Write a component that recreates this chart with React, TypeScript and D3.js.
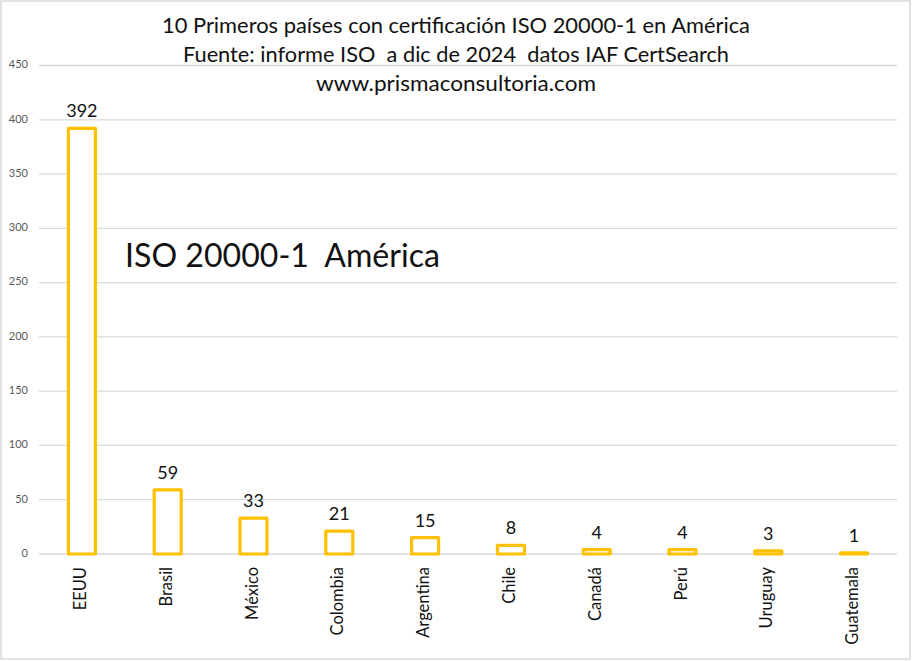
import React from "react";
import * as d3 from "d3";

const countries = ["EEUU", "Brasil", "México", "Colombia", "Argentina", "Chile", "Canadá", "Perú", "Uruguay", "Guatemala"];
const values = [392, 59, 33, 21, 15, 8, 4, 4, 3, 1];
const yTicks = [0, 50, 100, 150, 200, 250, 300, 350, 400, 450];
const titleLines = [
  "10 Primeros países con certificación ISO 20000-1 en América",
  "Fuente: informe ISO  a dic de 2024  datos IAF CertSearch",
  "www.prismaconsultoria.com",
];
const annotation = "ISO 20000-1  América";

const W = 912;
const H = 661;
const FONT = "Lato, 'Open Sans', sans-serif";
const keepSpaces = (s: string) => s.replace(/  /g, " \u00a0");

export default function App() {
  const x = d3.scaleBand<string>().domain(countries).range([39, 897]).paddingInner(0).paddingOuter(0);
  const y = d3.scaleLinear().domain([0, 450]).range([554, 65.5]);
  const barW = 27;

  return (
    <svg
      width={W}
      height={H}
      style={{ position: "absolute", left: 0, top: 0, background: "#fff" }}
      fontFamily={FONT}
    >
      <rect x={1} y={1} width={W - 3} height={H - 3} fill="#fff" stroke="#d9d9d9" strokeWidth={1.5} />
      {yTicks.map((t) => (
        <g key={t}>
          <line x1={39} x2={897} y1={y(t)} y2={y(t)} stroke="#d9d9d9" strokeWidth={1.3} />
          <text x={28} y={y(t)} textAnchor="end" dominantBaseline="middle" fontSize={11} fill="#595959">
            {t}
          </text>
        </g>
      ))}
      {countries.map((c, i) => {
        const cx = (x(c) as number) + x.bandwidth() / 2;
        const v = values[i];
        return (
          <g key={c}>
            <rect
              x={cx - barW / 2}
              y={y(v)}
              width={barW}
              height={Math.max(0.5, y(0) - y(v))}
              fill="#fff"
              stroke="#FFC000"
              strokeWidth={3.2}
              strokeLinejoin="round"
            />
            <text x={cx} y={y(v) - 11} textAnchor="middle" fontSize={18} fill="#111">
              {v}
            </text>
            <text
              transform={`translate(${cx},567) rotate(-90)`}
              textAnchor="end"
              dominantBaseline="middle"
              fontSize={16.5}
              fill="#111"
            >
              {c}
            </text>
          </g>
        );
      })}
      <text x={456} y={33} textAnchor="middle" fontSize={20.5} fill="#111" textLength={588} lengthAdjust="spacingAndGlyphs">
        {keepSpaces(titleLines[0])}
      </text>
      <text x={456} y={62} textAnchor="middle" fontSize={20.5} fill="#111" textLength={546} lengthAdjust="spacingAndGlyphs">
        {keepSpaces(titleLines[1])}
      </text>
      <text x={456} y={91} textAnchor="middle" fontSize={20.5} fill="#111" textLength={280} lengthAdjust="spacingAndGlyphs">
        {keepSpaces(titleLines[2])}
      </text>
      <text x={125} y={267} fontSize={32} fill="#111" textLength={315} lengthAdjust="spacingAndGlyphs">
        {keepSpaces(annotation)}
      </text>
    </svg>
  );
}
